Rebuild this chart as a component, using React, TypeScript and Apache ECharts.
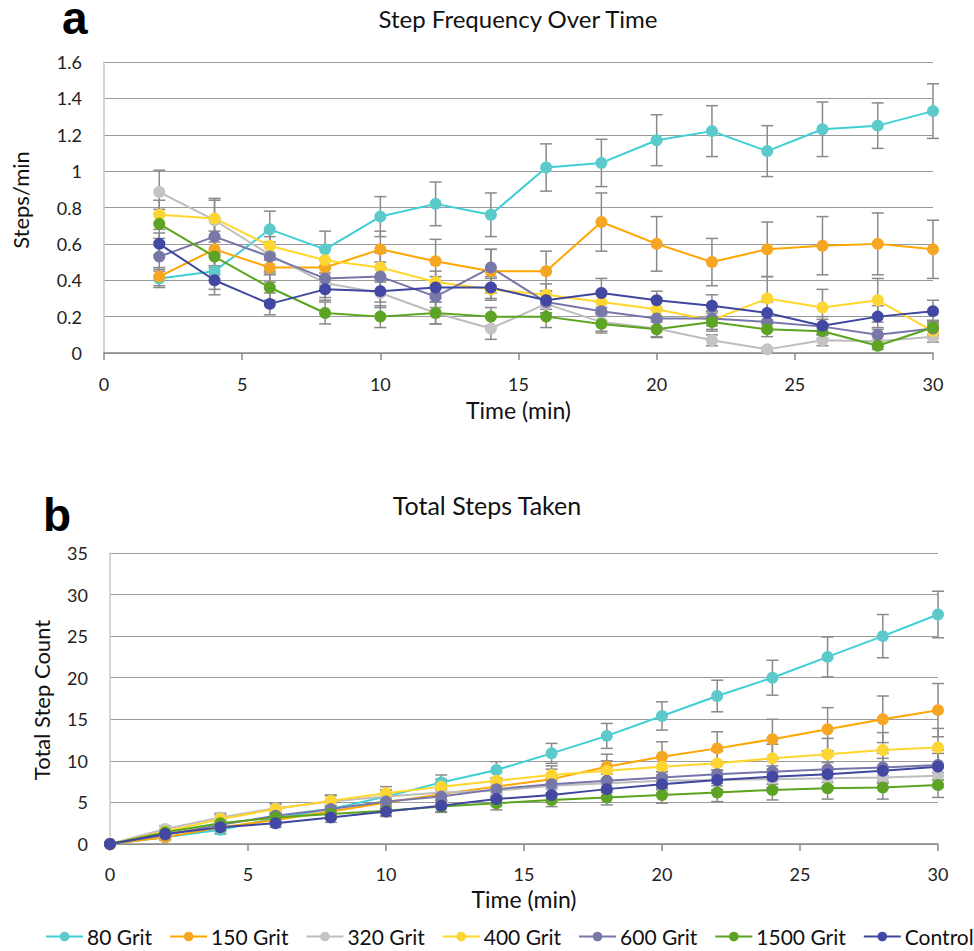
import React, { useEffect, useRef } from "react";
import * as echarts from "echarts";

const seriesNames = ["80 Grit", "150 Grit", "320 Grit", "400 Grit", "600 Grit", "1500 Grit", "Control"];
const lineColors = ["#3ECFD6", "#FFA500", "#BDBDBD", "#FFD62A", "#7676AA", "#5AA41E", "#3E469E"];
const markerColors = ["#5CC9CB", "#F5A623", "#C4C4C4", "#FDD633", "#7878A8", "#5EA424", "#4349A3"];

const timeA = [2, 4, 6, 8, 10, 12, 14, 16, 18, 20, 22, 24, 26, 28, 30];
const timeB = [0, 2, 4, 6, 8, 10, 12, 14, 16, 18, 20, 22, 24, 26, 28, 30];

const freq80 = [0.41, 0.45, 0.68, 0.57, 0.75, 0.82, 0.76, 1.02, 1.045, 1.17, 1.22, 1.11, 1.23, 1.25, 1.33];
const freq150 = [0.42, 0.57, 0.47, 0.47, 0.57, 0.505, 0.45, 0.45, 0.72, 0.6, 0.5, 0.57, 0.59, 0.6, 0.57];
const freq320 = [0.885, 0.73, 0.54, 0.385, 0.33, 0.22, 0.135, 0.27, 0.17, 0.135, 0.07, 0.02, 0.07, 0.065, 0.09];
const freq400 = [0.76, 0.74, 0.59, 0.51, 0.47, 0.39, 0.35, 0.32, 0.28, 0.24, 0.18, 0.3, 0.25, 0.29, 0.12];
const freq600 = [0.53, 0.64, 0.53, 0.41, 0.42, 0.31, 0.47, 0.28, 0.23, 0.19, 0.19, 0.17, 0.145, 0.1, 0.135];
const freq1500 = [0.71, 0.53, 0.36, 0.22, 0.2, 0.22, 0.2, 0.2, 0.16, 0.13, 0.17, 0.13, 0.12, 0.04, 0.14];
const freqControl = [0.6, 0.4, 0.27, 0.35, 0.34, 0.36, 0.36, 0.29, 0.33, 0.29, 0.26, 0.22, 0.15, 0.2, 0.23];

const freqErr80 = [0.05, 0.1, 0.1, 0.1, 0.11, 0.12, 0.12, 0.13, 0.13, 0.14, 0.14, 0.14, 0.15, 0.125, 0.15];
const freqErr150 = [0.05, 0.1, 0.08, 0.1, 0.1, 0.12, 0.12, 0.11, 0.16, 0.15, 0.13, 0.15, 0.16, 0.17, 0.16];
const freqErr320 = [0.12, 0.12, 0.1, 0.08, 0.08, 0.06, 0.06, 0.05, 0.05, 0.05, 0.03, 0.01, 0.03, 0.03, 0.03];
const freqErr400 = [0.08, 0.1, 0.08, 0.07, 0.08, 0.06, 0.06, 0.06, 0.06, 0.06, 0.05, 0.12, 0.1, 0.12, 0.04];
const freqErr600 = [0.08, 0.1, 0.08, 0.07, 0.08, 0.06, 0.1, 0.06, 0.05, 0.05, 0.04, 0.05, 0.04, 0.03, 0.04];
const freqErr1500 = [0.08, 0.1, 0.07, 0.06, 0.06, 0.06, 0.05, 0.06, 0.05, 0.04, 0.05, 0.04, 0.04, 0.02, 0.04];
const freqErrControl = [0.06, 0.08, 0.06, 0.06, 0.06, 0.06, 0.06, 0.05, 0.08, 0.05, 0.06, 0.06, 0.05, 0.06, 0.06];

const total80 = [0, 0.8, 1.7, 3.1, 4.2, 5.7, 7.4, 8.9, 10.9, 13.0, 15.4, 17.8, 20.0, 22.5, 25.0, 27.6];
const total150 = [0, 0.8, 2.0, 2.9, 3.9, 5.0, 6.0, 6.9, 7.8, 9.3, 10.5, 11.5, 12.6, 13.8, 15.0, 16.1];
const total320 = [0, 1.8, 3.2, 4.3, 5.1, 5.7, 6.2, 6.4, 7.0, 7.3, 7.6, 7.7, 7.8, 7.9, 8.0, 8.2];
const total400 = [0, 1.5, 3.0, 4.2, 5.2, 6.1, 6.9, 7.6, 8.3, 8.8, 9.3, 9.7, 10.3, 10.8, 11.3, 11.6];
const total600 = [0, 1.1, 2.3, 3.4, 4.2, 5.1, 5.7, 6.6, 7.2, 7.6, 8.0, 8.4, 8.7, 9.0, 9.2, 9.5];
const total1500 = [0, 1.4, 2.5, 3.2, 3.6, 4.0, 4.5, 4.9, 5.3, 5.6, 5.9, 6.2, 6.5, 6.7, 6.8, 7.1];
const totalControl = [0, 1.2, 2.0, 2.5, 3.2, 3.9, 4.6, 5.4, 5.9, 6.6, 7.2, 7.7, 8.1, 8.4, 8.8, 9.3];

const totalErr80 = [0, 0.3, 0.5, 0.6, 0.7, 0.8, 0.9, 1.0, 1.2, 1.5, 1.7, 1.9, 2.1, 2.4, 2.6, 2.8];
const totalErr150 = [0, 0.3, 0.5, 0.6, 0.7, 0.8, 0.9, 1.0, 1.2, 1.5, 1.8, 2.0, 2.4, 2.6, 2.8, 3.2];
const totalErr320 = [0, 0.4, 0.5, 0.6, 0.7, 0.8, 0.9, 1.0, 1.0, 1.1, 1.1, 1.2, 1.2, 1.3, 1.3, 1.4];
const totalErr400 = [0, 0.3, 0.5, 0.6, 0.7, 0.8, 0.9, 1.0, 1.1, 1.2, 1.3, 1.5, 1.7, 1.9, 2.1, 2.3];
const totalErr600 = [0, 0.3, 0.5, 0.6, 0.7, 0.8, 0.9, 1.0, 1.1, 1.2, 1.3, 1.4, 1.5, 1.6, 1.7, 1.8];
const totalErr1500 = [0, 0.3, 0.4, 0.5, 0.6, 0.6, 0.7, 0.8, 0.8, 0.9, 1.0, 1.1, 1.2, 1.3, 1.4, 1.5];
const totalErrControl = [0, 0.3, 0.4, 0.5, 0.6, 0.6, 0.7, 0.8, 0.9, 1.0, 1.1, 1.2, 1.3, 1.4, 1.5, 1.6];

const freqSeries = [freq80, freq150, freq320, freq400, freq600, freq1500, freqControl];
const freqErrs = [freqErr80, freqErr150, freqErr320, freqErr400, freqErr600, freqErr1500, freqErrControl];
const totalSeries = [total80, total150, total320, total400, total600, total1500, totalControl];
const totalErrs = [totalErr80, totalErr150, totalErr320, totalErr400, totalErr600, totalErr1500, totalErrControl];

const FONT = 'Lato, "Open Sans", sans-serif';
const BOLD = '"Liberation Sans", Arial, sans-serif';

const errorRender = (params: any, api: any) => {
  const x = api.value(0);
  const lo = api.value(1);
  const hi = api.value(2);
  const p1 = api.coord([x, hi]);
  const p2 = api.coord([x, lo]);
  const w = 6;
  const style = { stroke: "#8a8a8a", lineWidth: 1.5 };
  return {
    type: "group",
    children: [
      { type: "line", shape: { x1: p1[0], y1: p1[1], x2: p2[0], y2: p2[1] }, style },
      { type: "line", shape: { x1: p1[0] - w, y1: p1[1], x2: p1[0] + w, y2: p1[1] }, style },
      { type: "line", shape: { x1: p2[0] - w, y1: p2[1], x2: p2[0] + w, y2: p2[1] }, style },
    ],
  };
};

export default function App() {
  const ref = useRef<HTMLDivElement>(null);
  useEffect(() => {
    if (!ref.current) return;
    const chart = echarts.init(ref.current, undefined, { renderer: "svg" });

    const series: any[] = [];
    seriesNames.forEach((name, i) => {
      series.push({
        type: "custom",
        xAxisIndex: 0,
        yAxisIndex: 0,
        renderItem: errorRender,
        encode: { x: 0, y: [1, 2] },
        data: timeA.map((t, j) => [t, freqSeries[i][j] - freqErrs[i][j], freqSeries[i][j] + freqErrs[i][j]]),
        z: 1,
        silent: true,
      });
      series.push({
        type: "custom",
        xAxisIndex: 1,
        yAxisIndex: 1,
        renderItem: errorRender,
        encode: { x: 0, y: [1, 2] },
        data: timeB.map((t, j) => [t, totalSeries[i][j] - totalErrs[i][j], totalSeries[i][j] + totalErrs[i][j]]),
        z: 1,
        silent: true,
      });
    });
    seriesNames.forEach((name, i) => {
      const common = {
        name,
        type: "line",
        symbol: "circle",
        symbolSize: 12,
        lineStyle: { color: lineColors[i], width: 2 },
        itemStyle: { color: markerColors[i] },
        z: 3,
      };
      series.push({ ...common, xAxisIndex: 0, yAxisIndex: 0, data: timeA.map((t, j) => [t, freqSeries[i][j]]) });
      series.push({ ...common, xAxisIndex: 1, yAxisIndex: 1, data: timeB.map((t, j) => [t, totalSeries[i][j]]) });
    });

    const xAxisCommon = {
      type: "value",
      min: 0,
      max: 30,
      interval: 5,
      splitLine: { show: false },
      axisLine: { show: true, lineStyle: { color: "#8a8a8a", width: 1.5 } },
      axisTick: { show: true, inside: false, length: 7, lineStyle: { color: "#8a8a8a", width: 1.5 } },
      nameLocation: "middle",
      name: "Time (min)",
      nameTextStyle: { fontFamily: FONT, fontSize: 23, lineHeight: 20, color: "#111" },
    };
    const yAxisCommon = {
      type: "value",
      axisLine: { show: true, lineStyle: { color: "#c8c8c8", width: 1.5 } },
      axisTick: { show: false },
      splitLine: { show: true, lineStyle: { color: "#9a9a9a", width: 1 } },
      axisLabel: { fontFamily: FONT, fontSize: 18, color: "#222", margin: 22 },
    };

    chart.setOption({
      animation: false,
      backgroundColor: "#fff",
      title: [
        { text: "a", left: 62, top: 1, padding: 0, textStyle: { fontFamily: BOLD, fontWeight: "bold", fontSize: 46, lineHeight: 33, color: "#000" } },
        { text: "Step Frequency Over Time", left: 518, textAlign: "center", top: 6, padding: 0, textStyle: { fontFamily: FONT, fontWeight: "normal", fontSize: 24, lineHeight: 24, color: "#111" } },
        { text: "b", left: 43, top: 492, padding: 0, textStyle: { fontFamily: BOLD, fontWeight: "bold", fontSize: 46, lineHeight: 46, color: "#000" } },
        { text: "Total Steps Taken", left: 487, textAlign: "center", top: 492, padding: 0, textStyle: { fontFamily: FONT, fontWeight: "normal", fontSize: 25, lineHeight: 25, color: "#111" } },
      ],
      graphic: [
        { type: "text", x: 20, y: 200, rotation: Math.PI / 2, style: { text: "Steps/min", font: `22px ${FONT}`, fill: "#111", align: "center", verticalAlign: "middle" } },
        { type: "text", x: 41, y: 700, rotation: Math.PI / 2, style: { text: "Total Step Count", font: `22px ${FONT}`, fill: "#111", align: "center", verticalAlign: "middle" } },
      ],
      legend: {
        data: seriesNames,
        left: 45,
        top: 926,
        width: 1400,
        padding: 0,
        itemWidth: 37,
        itemHeight: 12,
        itemGap: 17,
        textStyle: { fontFamily: FONT, fontSize: 21, color: "#111", padding: [0, 0, 0, -1] },
      },
      grid: [
        { left: 104, right: 41, top: 62, height: 291 },
        { left: 110, right: 36, top: 553, height: 291 },
      ],
      xAxis: [
        { ...xAxisCommon, gridIndex: 0, nameGap: 47, axisLabel: { fontFamily: FONT, fontSize: 18, lineHeight: 18, color: "#222", margin: 22 } },
        { ...xAxisCommon, gridIndex: 1, nameGap: 45, axisLabel: { fontFamily: FONT, fontSize: 18, lineHeight: 18, color: "#222", margin: 21 } },
      ],
      yAxis: [
        { ...yAxisCommon, gridIndex: 0, min: 0, max: 1.6, interval: 0.2 },
        { ...yAxisCommon, gridIndex: 1, min: 0, max: 35, interval: 5 },
      ],
      series,
    });
    return () => chart.dispose();
  }, []);
  return <div ref={ref} style={{ position: "fixed", left: 0, top: 0, width: 974, height: 951 }} />;
}
